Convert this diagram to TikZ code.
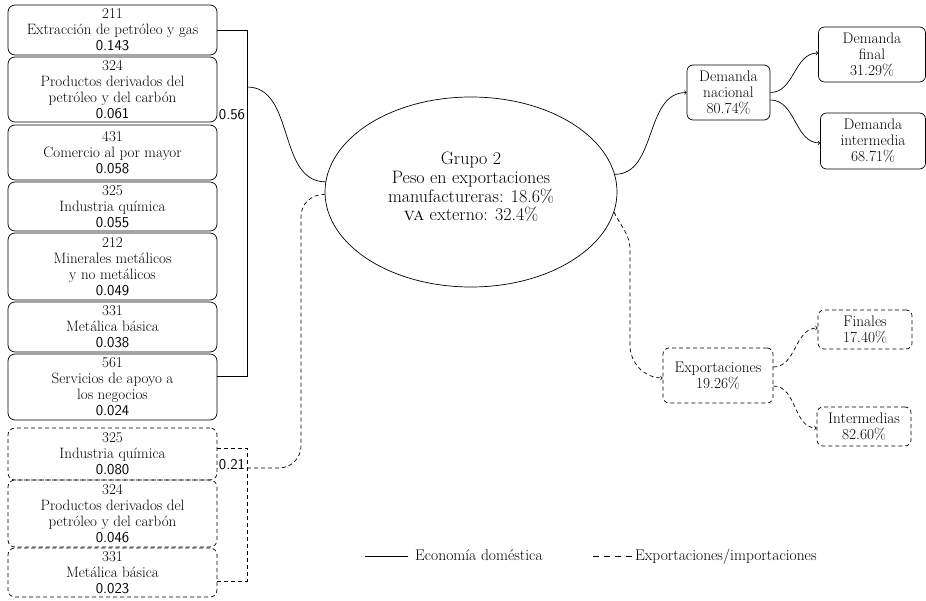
\documentclass[tikz,border=0pt]{standalone}
\usetikzlibrary{shapes.geometric,calc}
\newcommand\dnum[1]{{\sffamily #1}}
\begin{document}
\begin{tikzpicture}[x=1pt,y=-1pt,
  conn/.style={line width=0.7pt},
  dsh/.style={conn, dash pattern=on 4pt off 3pt},
  box/.style={draw, conn, rounded corners=7pt, minimum width=209pt, inner sep=0pt, align=center,
    font=\fontsize{15}{16}\selectfont},
  dbox/.style={box, dsh},
  rbox/.style={draw, conn, rounded corners=6pt, inner sep=0pt, align=center,
    font=\fontsize{15.3}{16}\selectfont},
  drbox/.style={rbox, dsh},
  lbl/.style={inner sep=0pt, font=\fontsize{15}{16}\selectfont\sffamily},
  leg/.style={inner sep=0pt, anchor=base west, font=\fontsize{15.5}{16}\selectfont}]
\useasboundingbox (0,0) rectangle (926,601);

% left boxes (domestic)
\node[box, minimum height=50pt] (b1) at (112.5,30) {211\\Extracción de petróleo y gas\\\dnum{0.143}};
\node[box, minimum height=65pt] (b2) at (112.5,89.5) {324\\Productos derivados del\\petróleo y del carbón\\\dnum{0.061}};
\node[box, minimum height=55pt] (b3) at (112.5,152.5) {431\\Comercio al por mayor\\\dnum{0.058}};
\node[box, minimum height=49pt] (b4) at (112.5,206.5) {325\\Industria química\\\dnum{0.055}};
\node[box, minimum height=67pt] (b5) at (112.5,266.5) {212\\Minerales metálicos\\y no metálicos\\\dnum{0.049}};
\node[box, minimum height=50pt] (b6) at (112.5,327) {331\\Metálica básica\\\dnum{0.038}};
\node[box, minimum height=66pt] (b7) at (112.5,387) {561\\Servicios de apoyo a\\los negocios\\\dnum{0.024}};
% left boxes (imports)
\node[dbox, minimum height=52pt] (b8) at (112.5,454) {325\\Industria química\\\dnum{0.080}};
\node[dbox, minimum height=67pt] (b9) at (112.5,513.5) {324\\Productos derivados del\\petróleo y del carbón\\\dnum{0.046}};
\node[dbox, minimum height=49pt] (b10) at (112.5,572.5) {331\\Metálica básica\\\dnum{0.023}};

% brackets
\coordinate (j1) at (247,87);
\coordinate (j2) at (247,468);
\draw[conn] (b1.east) -- (b1.east -| j1) |- ([yshift=11pt]b7.east);
\draw[dsh] ([yshift=6pt]b8.east) -- ([yshift=6pt]b8.east -| j2) |- ([yshift=-8.5pt]b10.east);
\node[lbl] (s1) at (232,115) {0.56};
\node[lbl] (s2) at (232,465) {0.21};

% central ellipse
\node[draw, conn, ellipse, minimum width=292pt, minimum height=190pt, inner sep=0pt] (g) at (471,192) {};
\node[align=center, inner sep=0pt, font=\fontsize{18}{18.6}\selectfont] (gt) at (471,187)
  {Grupo 2\\Peso en exportaciones\\manufactureras: 18.6\%\\\textsc{va} externo: 32.4\%};

\draw[conn] (j1) to[out=0,in=180] (g.176);
\draw[dsh, rounded corners=22pt] (j2) -- ++(54,0) |- (g.181);

% right side: domestic demand
\node[rbox, minimum width=83pt, minimum height=55pt] (dn) at (728.5,92.5) {Demanda\\nacional\\80.74\%};
\node[rbox, minimum width=107pt, minimum height=55pt] (df) at (872,54.5) {Demanda\\final\\31.29\%};
\node[rbox, minimum width=105pt, minimum height=56pt] (di) at (873,141) {Demanda\\intermedia\\68.71\%};
\draw[conn,->] (g.7) to[out=0,in=180] (dn.west);
\draw[conn,->] (dn.east) to[out=0,in=180] ([yshift=1.5pt]df.west);
\draw[conn,->] ([yshift=-7.5pt]dn.east) to[out=0,in=180] ([yshift=-2pt]di.west);

% right side: exports
\node[drbox, minimum width=110pt, minimum height=55pt] (ex) at (718,375.5) {Exportaciones\\19.26\%};
\node[drbox, minimum width=94pt, minimum height=39pt] (fi) at (865,329.5) {Finales\\17.40\%};
\node[drbox, minimum width=94pt, minimum height=39pt] (im) at (864,426.5) {Intermedias\\82.60\%};
\draw[dsh,->] (g.-8) to[out=-65,in=90] (630,250) -- (630,345) to[out=-90,in=180] ([yshift=-2.5pt]ex.west);
\draw[dsh,->] ([yshift=8.5pt]ex.east) to[out=0,in=180] ([yshift=1.5pt]fi.west);
\draw[dsh,->] ([yshift=-10.5pt]ex.east) to[out=0,in=180] ([yshift=-1.5pt]im.west);

% legend
\node[leg] (l1) at (415,560) {Economía doméstica};
\draw[conn] ([shift={(-7pt,4pt)}]l1.base west) -- ++(-43,0);
\node[leg] (l2) at (635,560) {Exportaciones/importaciones};
\draw[conn, dash pattern=on 6pt off 5pt] ([shift={(-3pt,4pt)}]l2.base west) -- ++(-39,0);
\end{tikzpicture}
\end{document}
